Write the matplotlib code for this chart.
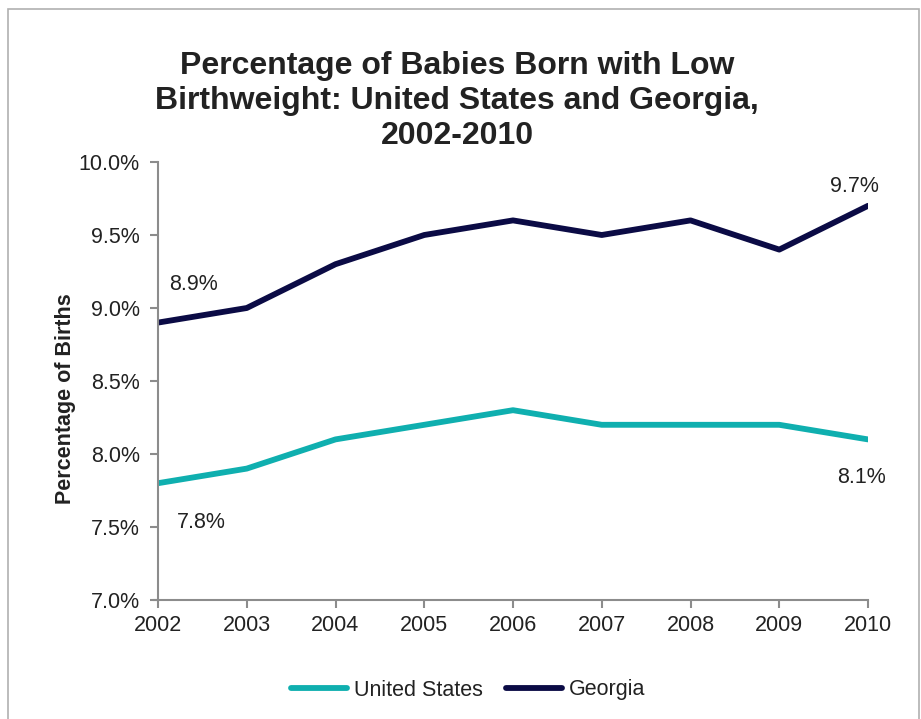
import numpy as np
import matplotlib.pyplot as plt
from matplotlib.patches import Rectangle

plt.rcParams['font.family'] = ['Liberation Sans', 'DejaVu Sans']

years = [2002, 2003, 2004, 2005, 2006, 2007, 2008, 2009, 2010]
us = [7.8, 7.9, 8.1, 8.2, 8.3, 8.2, 8.2, 8.2, 8.1]
georgia = [8.9, 9.0, 9.3, 9.5, 9.6, 9.5, 9.6, 9.4, 9.7]
yticks = [7.0, 7.5, 8.0, 8.5, 9.0, 9.5, 10.0]

teal = '#0FAFAF'
navy = '#0B0B45'
grey = '#8C8C8C'
txt = '#222222'

fig = plt.figure(figsize=(9.21, 7.19), dpi=100)
ax = fig.add_axes([158 / 921, 1 - 600 / 719, 710 / 921, 438 / 719])

# outer frame
fig.patches.append(Rectangle((8 / 921, -0.05), 911 / 921, 1.05 - 9 / 719,
                             transform=fig.transFigure, fill=False,
                             edgecolor='#B0B0B0', linewidth=1.2))

x = np.arange(len(years))
ax.plot(x, us, color=teal, lw=4.2, solid_capstyle='round', label='United States')
ax.plot(x, georgia, color=navy, lw=4.2, solid_capstyle='round', label='Georgia')

ax.set_xlim(0, len(years) - 1)
ax.set_ylim(7.0, 10.0)
ax.set_xticks(x)
ax.set_xticklabels([str(y) for y in years])
ax.set_yticks(yticks)
ax.set_yticklabels([f'{v:.1f}%' for v in yticks])
ax.tick_params(axis='both', labelsize=15.5, colors=grey, labelcolor=txt,
               length=6, width=1.5, direction='out')
ax.tick_params(axis='y', pad=7)
ax.tick_params(axis='x', pad=5)

for s in ['top', 'right']:
    ax.spines[s].set_visible(False)
for s in ['left', 'bottom']:
    ax.spines[s].set_color(grey)
    ax.spines[s].set_linewidth(1.5)
ax.spines['bottom'].set_bounds(-0.04, len(years) - 1)
ax.spines['bottom'].set_clip_on(False)

ax.set_ylabel('Percentage of Births', fontsize=15.5, fontweight='bold', color=txt)
ax.yaxis.set_label_coords(-0.116, 0.459)

# end labels
ax.text(x[0] + 0.12, georgia[0] + 0.26, f'{georgia[0]}%', fontsize=15.5, color=txt, va='center')
ax.text(x[0] + 0.21, us[0] - 0.27, f'{us[0]}%', fontsize=15.5, color=txt, va='center')
ax.text(x[-1] + 0.12, georgia[-1] + 0.13, f'{georgia[-1]}%', fontsize=15.5, color=txt, va='center', ha='right')
ax.text(x[-1] + 0.2, us[-1] - 0.26, f'{us[-1]}%', fontsize=15.5, color=txt, va='center', ha='right')

fig.text(457 / 921, 1 - 101 / 719,
         'Percentage of Babies Born with Low\nBirthweight: United States and Georgia,\n2002-2010',
         ha='center', va='center', fontsize=23, fontweight='bold', color=txt,
         linespacing=1.22)

fig.legend(loc='center', bbox_to_anchor=(468 / 921, 1 - 690 / 719), ncol=2,
           frameon=False, fontsize=15.5, handlelength=2.6, handletextpad=0.3,
           columnspacing=1.1, labelcolor=txt)

fig.savefig('out.png', dpi=100)
